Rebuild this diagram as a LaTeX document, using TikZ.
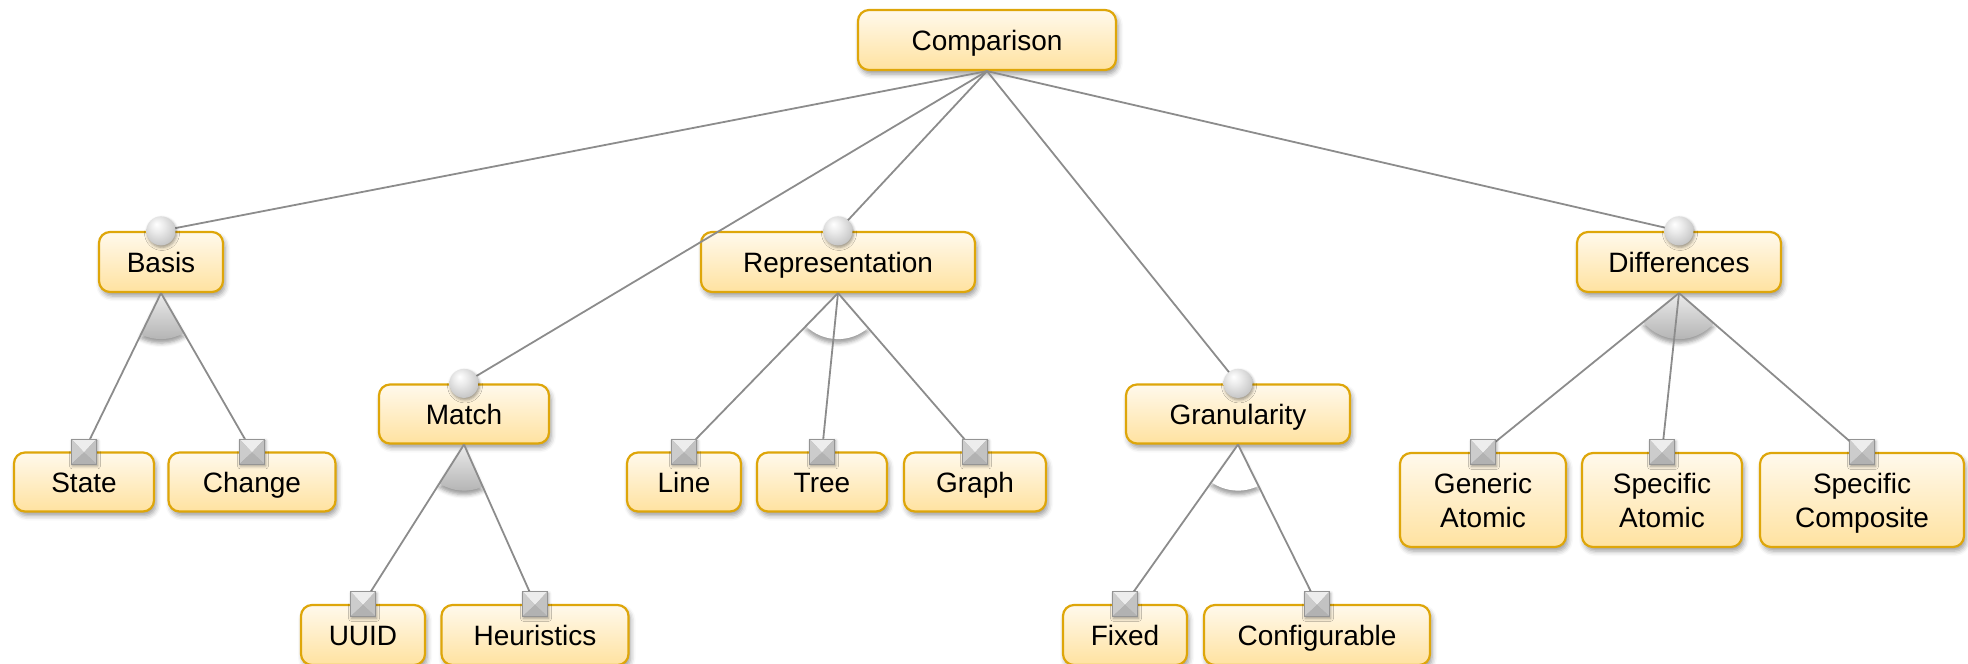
\documentclass[tikz,border=0pt]{standalone}
\usepackage{fontspec}
\setmainfont{Liberation Sans}
\usetikzlibrary{calc,shadows.blur}

\definecolor{fmBorder}{RGB}{222,166,10}
\definecolor{fmTop}{RGB}{255,249,236}
\definecolor{fmBottom}{RGB}{255,226,160}
\definecolor{fmLine}{RGB}{140,140,140}

% light, glossy sphere used for optional features
\pgfdeclareradialshading{fmball}{\pgfpoint{-8bp}{12bp}}{%
  color(0bp)=(white); color(12bp)=(black!8); color(30bp)=(black!22);
  color(45bp)=(black!36); color(55bp)=(black!48)}

\tikzset{
  feature/.style={draw=fmBorder, line width=2.2pt, rounded corners=11pt,
    top color=fmTop, bottom color=fmBottom, minimum height=60pt,
    inner sep=0pt, align=center, font=\fontsize{28}{34}\selectfont,
    text height=20pt, text depth=0pt,
    blur shadow={shadow xshift=2pt, shadow yshift=-4pt, shadow blur radius=5pt}},
  twoline/.style={text height=54pt, text depth=0pt, minimum height=94pt},
  conn/.style={draw=fmLine, line width=1.8pt},
  groupfilled/.style={top color=black!8, bottom color=black!30,
    blur shadow={shadow xshift=0pt, shadow yshift=-4pt, shadow blur radius=4pt}},
  grouphollow/.style={fill=white,
    blur shadow={shadow xshift=0pt, shadow yshift=-4pt, shadow blur radius=4pt}},
}

% optional feature: shaded ball on the top edge of the child
\newcommand\optmark[1]{%
  \shade[shading=fmball, blur shadow={shadow xshift=1pt, shadow yshift=-2pt, shadow blur radius=3pt}]
    (#1) circle[radius=14.5pt];}

% mandatory feature: bevelled square on the top edge of the child
\newcommand\mandmark[1]{%
  \begin{scope}[shift={(#1)}]
    \fill[black!35, blur shadow={shadow xshift=1pt, shadow yshift=-2pt, shadow blur radius=3pt}]
      (-12.5,-12.5) rectangle (12.5,12.5);
    \fill[black!7]  (-12.5,-12.5) -- (12.5,-12.5) -- (0,1) -- cycle;
    \fill[black!20] (-12.5,-12.5) -- (0,1) -- (-12.5,12.5) -- cycle;
    \fill[black!24] (12.5,-12.5) -- (0,1) -- (12.5,12.5) -- cycle;
    \fill[black!30] (-12.5,12.5) -- (0,1) -- (12.5,12.5) -- cycle;
    \draw[black!42, line width=0.8pt] (-12.5,-12.5) rectangle (12.5,12.5);
  \end{scope}}

% group cardinality marker: sector between the first and last child edges
\newcommand\fmgroup[4]{%
  \path[#4] let \p1=($(#2)-(#1)$), \p2=($(#3)-(#1)$),
      \n1={atan2(\y1,\x1)}, \n2={atan2(\y2,\x2)} in
    (#1) -- ++(\n1:46pt) arc[start angle=\n1, end angle=\n2, radius=46pt] -- cycle;}

\begin{document}
\begin{tikzpicture}[x=1pt, y=-1pt]
\useasboundingbox (0,0) rectangle (1968,664);

% features
\node[feature, minimum width=258pt] (cmp)  at (987,40)  {Comparison};
\node[feature, minimum width=124pt] (bas)  at (161,262) {Basis};
\node[feature, minimum width=274pt] (rep)  at (838,262) {Representation};
\node[feature, minimum width=204pt] (dif)  at (1679,262) {Differences};
\node[feature, minimum width=170pt, minimum height=59pt] (mat)  at (464,414) {Match};
\node[feature, minimum width=224pt, minimum height=59pt] (gra)  at (1238,414) {Granularity};
\node[feature, minimum width=140pt, minimum height=59pt] (sta)  at (84,482)  {State};
\node[feature, minimum width=167pt, minimum height=59pt] (chg)  at (252,482) {Change};
\node[feature, minimum width=114pt, minimum height=59pt] (lin)  at (684,482) {Line};
\node[feature, minimum width=130pt, minimum height=59pt] (tre)  at (822,482) {Tree};
\node[feature, minimum width=142pt, minimum height=59pt] (grp)  at (975,482) {Graph};
\node[feature, minimum width=124pt] (uid)  at (363,635) {UUID};
\node[feature, minimum width=187pt] (heu)  at (535,635) {Heuristics};
\node[feature, minimum width=124pt] (fix)  at (1125,635) {Fixed};
\node[feature, minimum width=226pt] (cfg)  at (1317,635) {Configurable};
\node[feature, twoline, minimum width=166pt] (gat)  at (1483,500) {Generic\\Atomic};
\node[feature, twoline, minimum width=160pt] (sat)  at (1662,500) {Specific\\Atomic};
\node[feature, twoline, minimum width=204pt] (sco)  at (1862,500) {Specific\\Composite};

% group markers
\fmgroup{bas.south}{sta.north}{chg.north}{groupfilled}
\fmgroup{mat.south}{uid.north}{heu.north}{groupfilled}
\fmgroup{rep.south}{lin.north}{grp.north}{grouphollow}
\fmgroup{gra.south}{fix.north}{cfg.north}{grouphollow}
\fmgroup{dif.south}{gat.north}{sco.north}{groupfilled}

% edges
\foreach \c in {bas,rep,dif,mat,gra}
  {\draw[conn] (cmp.south) -- (\c.north);}
\draw[conn] (bas.south) -- (sta.north);
\draw[conn] (bas.south) -- (chg.north);
\draw[conn] (rep.south) -- (lin.north);
\draw[conn] (rep.south) -- (tre.north);
\draw[conn] (rep.south) -- (grp.north);
\draw[conn] (mat.south) -- (uid.north);
\draw[conn] (mat.south) -- (heu.north);
\draw[conn] (gra.south) -- (fix.north);
\draw[conn] (gra.south) -- (cfg.north);
\draw[conn] (dif.south) -- (gat.north);
\draw[conn] (dif.south) -- (sat.north);
\draw[conn] (dif.south) -- (sco.north);

% edge decorations
\foreach \c in {bas,rep,dif,mat,gra}
  {\optmark{\c.north}}
\foreach \c in {sta,chg,lin,tre,grp,uid,heu,fix,cfg,gat,sat,sco}
  {\mandmark{\c.north}}
\end{tikzpicture}
\end{document}
